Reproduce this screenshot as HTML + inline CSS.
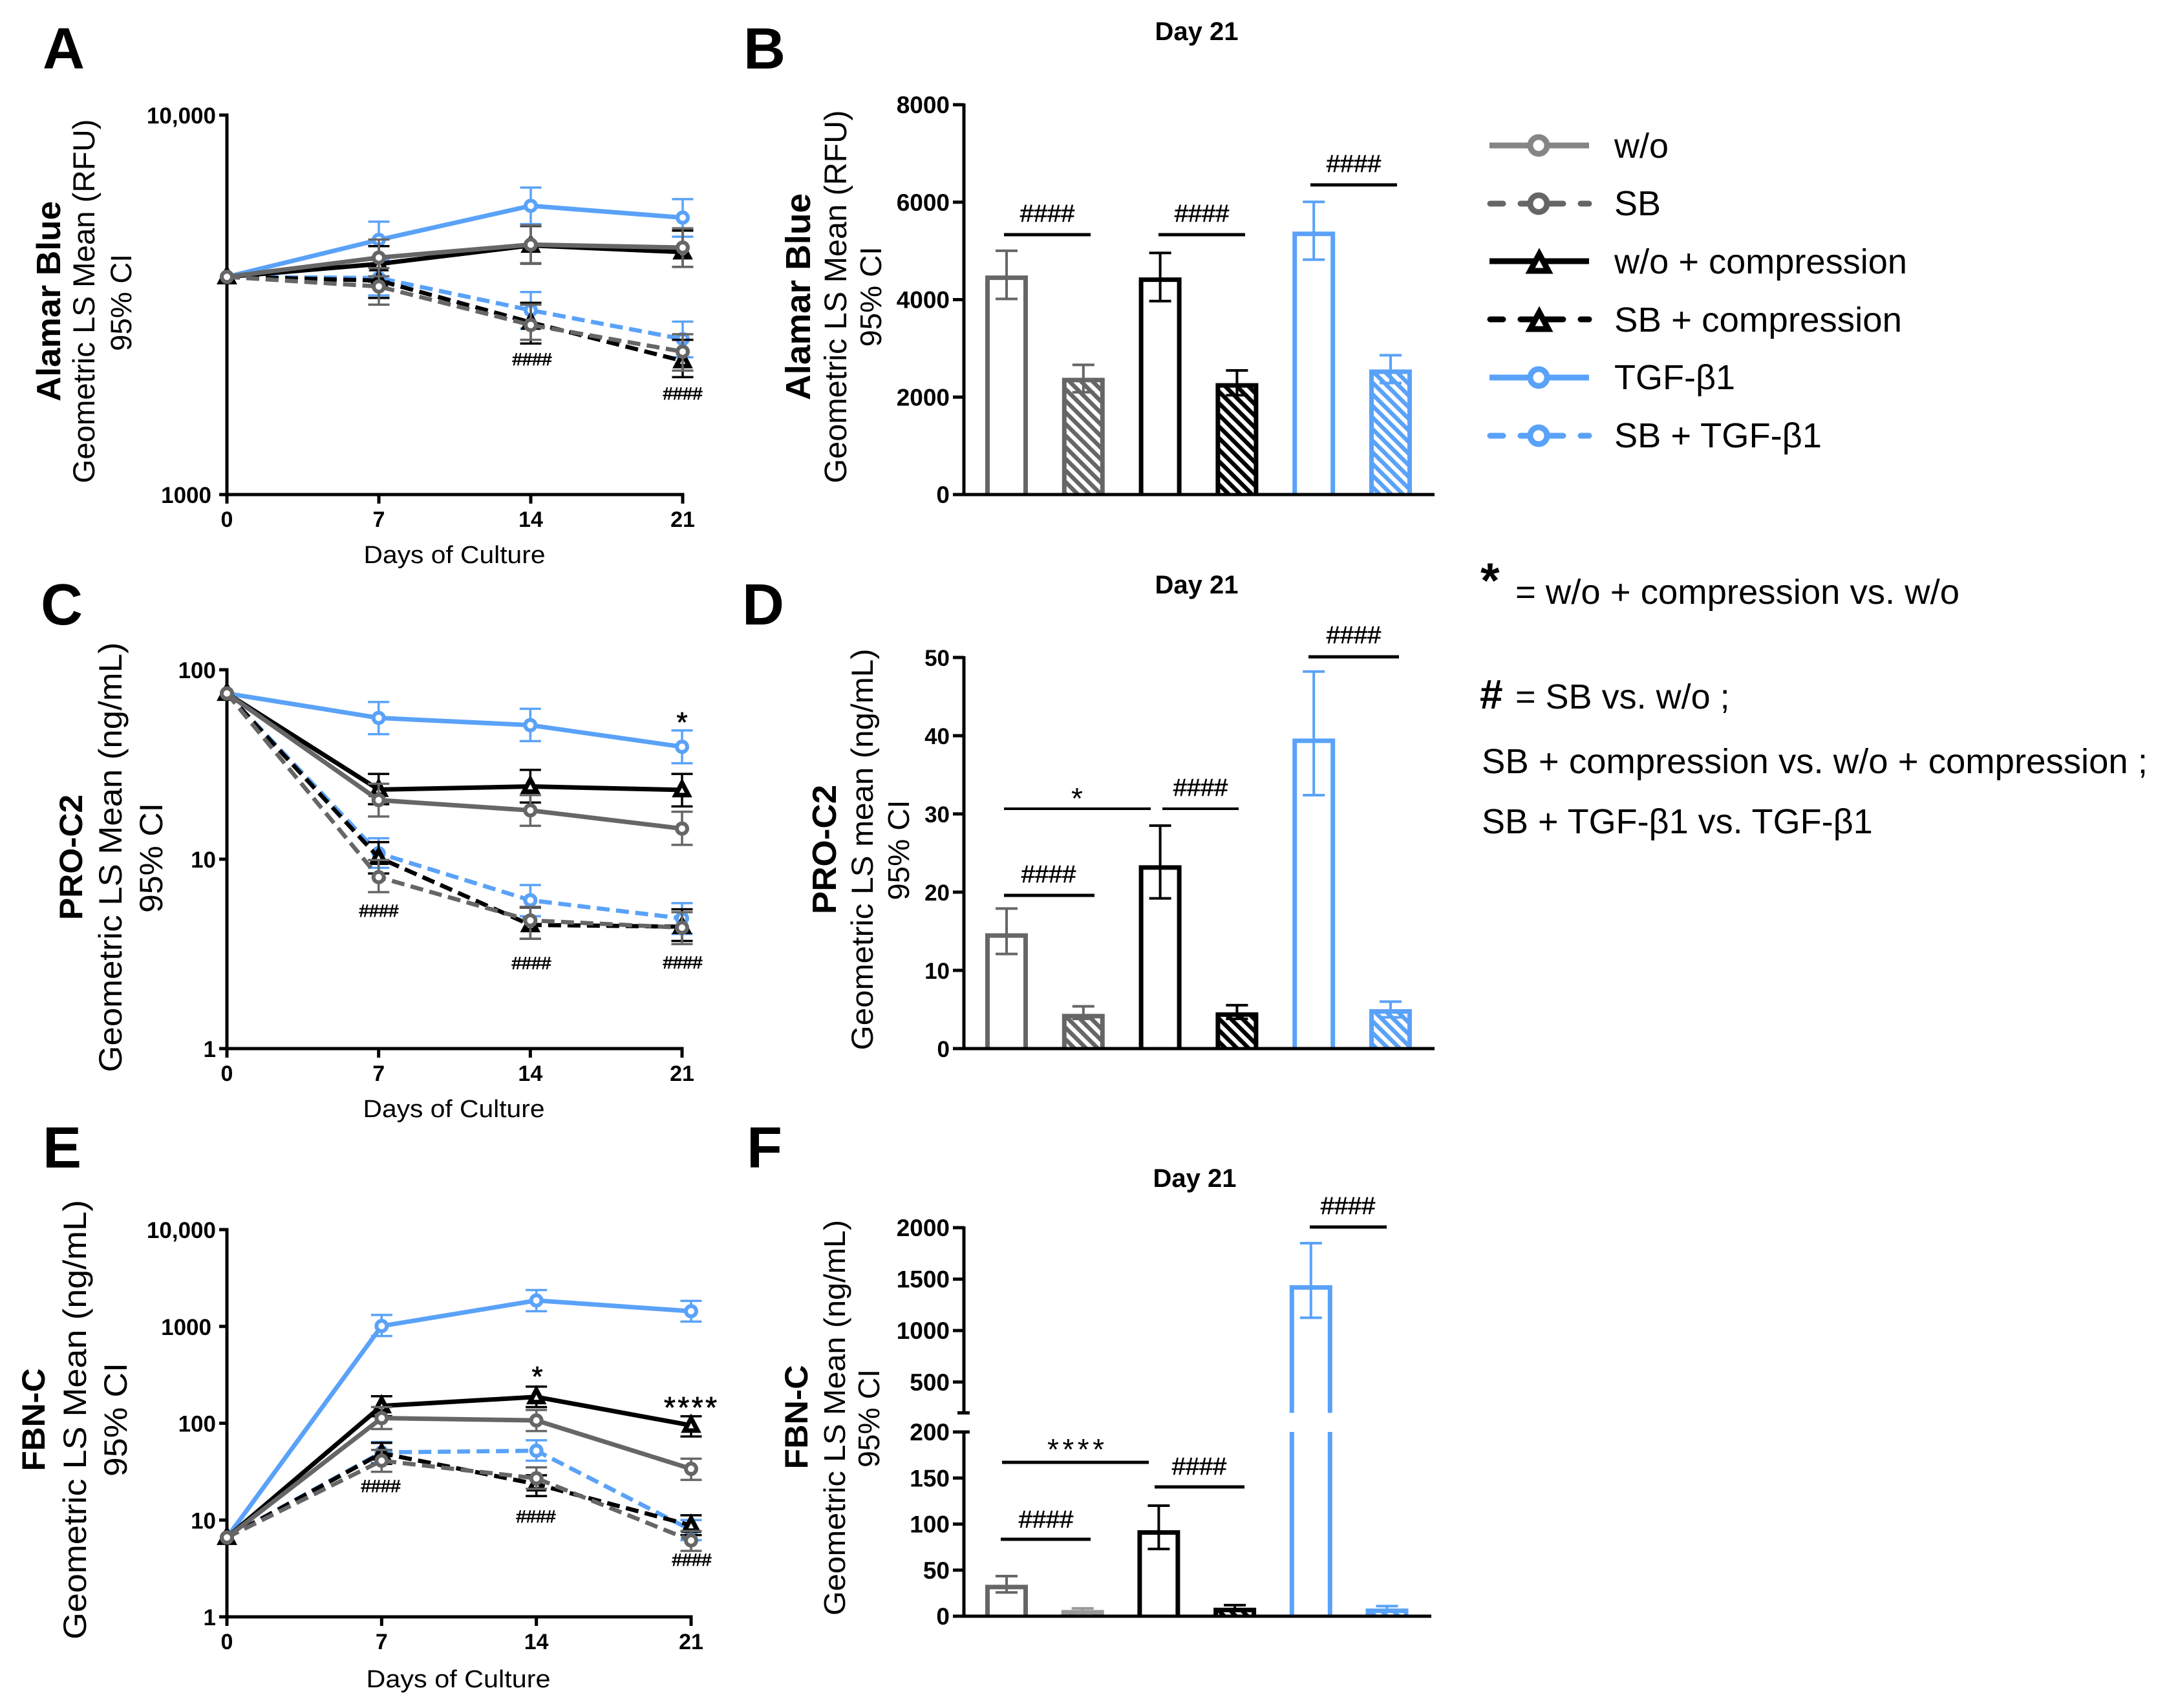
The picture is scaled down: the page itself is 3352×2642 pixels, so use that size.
<!DOCTYPE html>
<html lang="en">
<head>
<meta charset="utf-8">
<title>Alamar Blue, PRO-C2 and FBN-C over culture</title>
<style>
html,body{margin:0;padding:0;background:#fff}
svg{display:block}
text{font-family:"Liberation Sans",Arial,sans-serif;fill:#000}
.b{font-weight:bold}
</style>
</head>
<body>
<svg id="figure" xmlns="http://www.w3.org/2000/svg" width="3352" height="2642" viewBox="0 0 3352 2642">
<rect width="3352" height="2642" fill="#fff"/>
<defs>
<pattern id="hatch-gray" patternUnits="userSpaceOnUse" width="12.7" height="12.7" patternTransform="rotate(-45)"><rect width="12.7" height="12.7" fill="#fff"/><rect width="6.5" height="12.7" fill="#666"/></pattern>
<pattern id="hatch-black" patternUnits="userSpaceOnUse" width="12.7" height="12.7" patternTransform="rotate(-45)"><rect width="12.7" height="12.7" fill="#fff"/><rect width="6.5" height="12.7" fill="#000"/></pattern>
<pattern id="hatch-blue" patternUnits="userSpaceOnUse" width="12.7" height="12.7" patternTransform="rotate(-45)"><rect width="12.7" height="12.7" fill="#fff"/><rect width="6.5" height="12.7" fill="#5aa2f8"/></pattern>
</defs>

<g id="plots"></g>

<g class="b" font-size="90">
<text class="b" x="66" y="106">A</text>
<text class="b" x="1150" y="106">B</text>
<text class="b" x="63" y="966">C</text>
<text class="b" x="1148" y="966">D</text>
<text class="b" x="66" y="1806">E</text>
<text class="b" x="1155" y="1806">F</text>
</g>

<g>
<text class="b" transform="translate(93,466) rotate(-90)" text-anchor="middle" font-size="52" textLength="310" lengthAdjust="spacingAndGlyphs">Alamar Blue</text>
<text transform="translate(146,466) rotate(-90)" text-anchor="middle" font-size="47" textLength="563" lengthAdjust="spacingAndGlyphs">Geometric LS Mean (RFU)</text>
<text transform="translate(203,468) rotate(-90)" text-anchor="middle" font-size="45" textLength="150" lengthAdjust="spacingAndGlyphs">95% CI</text>
<text x="703" y="871" text-anchor="middle" font-size="38" textLength="281" lengthAdjust="spacingAndGlyphs">Days of Culture</text>
</g>
<g>
<text class="b" x="1851" y="62" text-anchor="middle" font-size="40">Day 21</text>
<text class="b" transform="translate(1253,459) rotate(-90)" text-anchor="middle" font-size="54" textLength="320" lengthAdjust="spacingAndGlyphs">Alamar Blue</text>
<text transform="translate(1309,459) rotate(-90)" text-anchor="middle" font-size="48" textLength="577" lengthAdjust="spacingAndGlyphs">Geometric LS Mean (RFU)</text>
<text transform="translate(1363,459) rotate(-90)" text-anchor="middle" font-size="46" textLength="155" lengthAdjust="spacingAndGlyphs">95% CI</text>
</g>
<g>
<text class="b" transform="translate(127,1326) rotate(-90)" text-anchor="middle" font-size="50" textLength="194" lengthAdjust="spacingAndGlyphs">PRO-C2</text>
<text transform="translate(188,1326) rotate(-90)" text-anchor="middle" font-size="50" textLength="665" lengthAdjust="spacingAndGlyphs">Geometric LS Mean (ng/mL)</text>
<text transform="translate(251,1327) rotate(-90)" text-anchor="middle" font-size="50" textLength="170" lengthAdjust="spacingAndGlyphs">95% CI</text>
<text x="702" y="1728" text-anchor="middle" font-size="38" textLength="281" lengthAdjust="spacingAndGlyphs">Days of Culture</text>
</g>
<g>
<text class="b" x="1851" y="918" text-anchor="middle" font-size="40">Day 21</text>
<text class="b" transform="translate(1293,1314) rotate(-90)" text-anchor="middle" font-size="52" textLength="200" lengthAdjust="spacingAndGlyphs">PRO-C2</text>
<text transform="translate(1350,1314) rotate(-90)" text-anchor="middle" font-size="47" textLength="621" lengthAdjust="spacingAndGlyphs">Geometric LS mean (ng/mL)</text>
<text transform="translate(1406,1315) rotate(-90)" text-anchor="middle" font-size="46" textLength="155" lengthAdjust="spacingAndGlyphs">95% CI</text>
</g>
<g>
<text class="b" transform="translate(69,2196) rotate(-90)" text-anchor="middle" font-size="50" textLength="159" lengthAdjust="spacingAndGlyphs">FBN-C</text>
<text transform="translate(133,2196) rotate(-90)" text-anchor="middle" font-size="50" textLength="680" lengthAdjust="spacingAndGlyphs">Geometric LS Mean (ng/mL)</text>
<text transform="translate(196,2196) rotate(-90)" text-anchor="middle" font-size="50" textLength="176" lengthAdjust="spacingAndGlyphs">95% CI</text>
<text x="709" y="2610" text-anchor="middle" font-size="38" textLength="285" lengthAdjust="spacingAndGlyphs">Days of Culture</text>
</g>
<g>
<text class="b" x="1848" y="1836" text-anchor="middle" font-size="40">Day 21</text>
<text class="b" transform="translate(1249,2192) rotate(-90)" text-anchor="middle" font-size="50" textLength="161" lengthAdjust="spacingAndGlyphs">FBN-C</text>
<text transform="translate(1307,2193) rotate(-90)" text-anchor="middle" font-size="46" textLength="612" lengthAdjust="spacingAndGlyphs">Geometric LS Mean (ng/mL)</text>
<text transform="translate(1360,2194) rotate(-90)" text-anchor="middle" font-size="46" textLength="152" lengthAdjust="spacingAndGlyphs">95% CI</text>
</g>

<g text-anchor="middle" stroke="#000" stroke-width="0.8">
<text x="823" y="565" font-size="27" textLength="61" lengthAdjust="spacingAndGlyphs">####</text>
<text x="1056" y="618" font-size="27" textLength="61" lengthAdjust="spacingAndGlyphs">####</text>
<text x="586" y="1418" font-size="27" textLength="61" lengthAdjust="spacingAndGlyphs">####</text>
<text x="822" y="1499" font-size="27" textLength="61" lengthAdjust="spacingAndGlyphs">####</text>
<text x="1056" y="1498" font-size="27" textLength="61" lengthAdjust="spacingAndGlyphs">####</text>
<text x="1055" y="1132" font-size="44">*</text>
<text x="589" y="2308" font-size="27" textLength="61" lengthAdjust="spacingAndGlyphs">####</text>
<text x="829" y="2355" font-size="27" textLength="61" lengthAdjust="spacingAndGlyphs">####</text>
<text x="1070" y="2422" font-size="27" textLength="61" lengthAdjust="spacingAndGlyphs">####</text>
<text x="831" y="2144" font-size="44">*</text>
<text x="1068" y="2193" font-size="46" textLength="82" lengthAdjust="spacing">****</text>
</g>

<g text-anchor="middle">
<g>
<line x1="1553" x2="1687" y1="363" y2="363" stroke="#000" stroke-width="5"/>
<line x1="1792" x2="1926" y1="363" y2="363" stroke="#000" stroke-width="5"/>
<line x1="2027" x2="2161" y1="286" y2="286" stroke="#000" stroke-width="5"/>
<text x="1620" y="343" font-size="38" stroke="#000" stroke-width="0.6">####</text>
<text x="1859" y="343" font-size="38" stroke="#000" stroke-width="0.6">####</text>
<text x="2094" y="266" font-size="38" stroke="#000" stroke-width="0.6">####</text>
</g>
<g>
<line x1="1553" x2="1780" y1="1251" y2="1251" stroke="#000" stroke-width="4"/>
<line x1="1798" x2="1916" y1="1251" y2="1251" stroke="#000" stroke-width="4"/>
<line x1="1553" x2="1693" y1="1385" y2="1385" stroke="#000" stroke-width="5"/>
<line x1="2024" x2="2164" y1="1016" y2="1016" stroke="#000" stroke-width="5"/>
<text x="1666" y="1251" font-size="46">*</text>
<text x="1857" y="1231" font-size="38" stroke="#000" stroke-width="0.6">####</text>
<text x="1622" y="1365" font-size="38" stroke="#000" stroke-width="0.6">####</text>
<text x="2094" y="995" font-size="38" stroke="#000" stroke-width="0.6">####</text>
</g>
<g>
<line x1="1550" x2="1777" y1="2262" y2="2262" stroke="#000" stroke-width="5"/>
<line x1="1786" x2="1925" y1="2300" y2="2300" stroke="#000" stroke-width="5"/>
<line x1="1548" x2="1687" y1="2381" y2="2381" stroke="#000" stroke-width="5"/>
<line x1="2026" x2="2145" y1="1898" y2="1898" stroke="#000" stroke-width="5"/>
<text x="1664" y="2258" font-size="46" textLength="88" lengthAdjust="spacing">****</text>
<text x="1855" y="2281" font-size="38" stroke="#000" stroke-width="0.6">####</text>
<text x="1618" y="2363" font-size="38" stroke="#000" stroke-width="0.6">####</text>
<text x="2085" y="1878" font-size="38" stroke="#000" stroke-width="0.6">####</text>
</g>
</g>

<g font-size="54">
<g>
<line x1="2304" x2="2458" y1="225" y2="225" stroke="#858585" stroke-width="9"/>
<circle cx="2380" cy="225" r="13" fill="#fff" stroke="#858585" stroke-width="9"/>
<text x="2497" y="244" textLength="84" lengthAdjust="spacingAndGlyphs">w/o</text>
</g>
<g>
<line x1="2305" x2="2458" y1="315" y2="315" stroke="#666" stroke-width="9" stroke-linecap="round" stroke-dasharray="20 27 66 27 20"/>
<circle cx="2380" cy="315" r="13" fill="#fff" stroke="#666" stroke-width="9"/>
<text x="2497" y="333">SB</text>
</g>
<g>
<line x1="2304" x2="2458" y1="404" y2="404" stroke="#000" stroke-width="9"/>
<polygon points="2381,393 2395,419 2367,419" fill="#fff" stroke="#000" stroke-width="9"/>
<text x="2497" y="423" textLength="453" lengthAdjust="spacingAndGlyphs">w/o + compression</text>
</g>
<g>
<line x1="2305" x2="2458" y1="494" y2="494" stroke="#000" stroke-width="9" stroke-linecap="round" stroke-dasharray="20 27 66 27 20"/>
<polygon points="2381,483 2395,509 2367,509" fill="#fff" stroke="#000" stroke-width="9"/>
<text x="2497" y="513" textLength="445" lengthAdjust="spacingAndGlyphs">SB + compression</text>
</g>
<g>
<line x1="2304" x2="2458" y1="584" y2="584" stroke="#5aa2f8" stroke-width="9"/>
<circle cx="2380" cy="584" r="13" fill="#fff" stroke="#5aa2f8" stroke-width="9"/>
<text x="2497" y="602">TGF-β1</text>
</g>
<g>
<line x1="2305" x2="2458" y1="674" y2="674" stroke="#5aa2f8" stroke-width="9" stroke-linecap="round" stroke-dasharray="20 27 66 27 20"/>
<circle cx="2380" cy="674" r="13" fill="#fff" stroke="#5aa2f8" stroke-width="9"/>
<text x="2497" y="692" textLength="321" lengthAdjust="spacingAndGlyphs">SB + TGF-β1</text>
</g>
</g>

<g font-size="54">
<text class="b" x="2290" y="924" font-size="76">*</text>
<text x="2344" y="934" textLength="687" lengthAdjust="spacingAndGlyphs">= w/o + compression vs. w/o</text>
<text class="b" x="2289" y="1096" font-size="64">#</text>
<text x="2344" y="1096">= SB vs. w/o ;</text>
<text x="2292" y="1196" textLength="1030" lengthAdjust="spacingAndGlyphs">SB + compression vs. w/o + compression ;</text>
<text x="2292" y="1289">SB + TGF-β1 vs. TGF-β1</text>
</g>
</svg>

<script>
// Shared categories
const days = [0, 7, 14, 21];
const barGroups = ['w/o', 'SB', 'w/o + compression', 'SB + compression', 'TGF-β1', 'SB + TGF-β1'];

// Panel A: Alamar Blue (RFU)
const aTicks = [1000, 10000];
const aTickLabels = ['1000', '10,000'];
const aWoMean = [3747, 4211, 4556, 4474];
const aWoHi = [3747, 4700, 5120, 5030];
const aWoLo = [3747, 3760, 4071, 3981];
const aSbMean = [3747, 3534, 2798, 2380];
const aSbHi = [3747, 3950, 3166, 2645];
const aSbLo = [3747, 3166, 2557, 2122];
const aWcMean = [3747, 4053, 4534, 4355];
const aWcHi = [3747, 4515, 5100, 4960];
const aWcLo = [3747, 3640, 4060, 3980];
const aScMean = [3747, 3664, 2842, 2250];
const aScHi = [3747, 4050, 3202, 2557];
const aScLo = [3747, 3297, 2500, 2039];
const aTgMean = [3747, 4691, 5767, 5368];
const aTgHi = [3747, 5238, 6440, 6005];
const aTgLo = [3747, 4200, 5160, 4780];
const aStMean = [3747, 3721, 3060, 2569];
const aStHi = [3747, 4150, 3417, 2855];
const aStLo = [3747, 3348, 2740, 2300];

// Panel B: Alamar Blue, day 21
const bTicks = [0, 2000, 4000, 6000, 8000];
const bMeans = [4490, 2390, 4450, 2280, 5390, 2560];
const bHi = [5003, 2661, 4958, 2547, 6007, 2859];
const bLo = [4015, 2100, 3970, 2038, 4821, 2289];

// Panel C: PRO-C2 (ng/mL)
const cTicks = [1, 10, 100];
const cTickLabels = ['1', '10', '100'];
const cWoMean = [75, 20.5, 18.1, 14.5];
const cWoHi = [75, 25, 21.8, 17.8];
const cWoLo = [75, 16.8, 15, 11.9];
const cSbMean = [75, 8.04, 4.75, 4.35];
const cSbHi = [75, 9.9, 5.6, 5.25];
const cSbLo = [75, 6.7, 3.8, 3.56];
const cWcMean = [75, 23.3, 24.2, 23.2];
const cWcHi = [75, 28.2, 29.6, 28.2];
const cWcLo = [75, 19.5, 19.9, 19];
const cScMean = [75, 10.2, 4.5, 4.4];
const cScHi = [75, 12.3, 5.56, 5.44];
const cScLo = [75, 8.4, 3.8, 3.7];
const cTgMean = [75, 55.7, 51, 39.2];
const cTgHi = [75, 67.6, 62.2, 47.8];
const cTgLo = [75, 45.7, 42, 32.1];
const cStMean = [75, 10.75, 6.07, 4.87];
const cStHi = [75, 12.9, 7.3, 5.86];
const cStLo = [75, 9, 5, 4.03];

// Panel D: PRO-C2, day 21
const dTicks = [0, 10, 20, 30, 40, 50];
const dMeans = [14.7, 4.4, 23.4, 4.6, 39.6, 5];
const dHi = [17.9, 5.4, 28.5, 5.55, 48.2, 6];
const dLo = [12.1, 3.8, 19.2, 3.8, 32.4, 4];

// Panel E: FBN-C (ng/mL)
const eTicks = [1, 10, 100, 1000, 10000];
const eTickLabels = ['1', '10', '100', '1000', '10,000'];
const eWoMean = [6.6, 113, 107, 33.8];
const eWoHi = [6.6, 147, 137, 43];
const eWoLo = [6.6, 87, 83, 26];
const eSbMean = [6.6, 41, 27, 6.15];
const eSbHi = [6.6, 53, 35, 7.7];
const eSbLo = [6.6, 31.5, 21, 4.8];
const eWcMean = [6.6, 151, 187, 95];
const eWcHi = [6.6, 190, 239, 118];
const eWcLo = [6.6, 118, 147, 73];
const eScMean = [6.6, 49, 23.5, 8.8];
const eScHi = [6.6, 62.7, 29, 11.2];
const eScLo = [6.6, 38, 17.7, 7];
const eTgMean = [6.6, 1009, 1854, 1436];
const eTgHi = [6.6, 1315, 2373, 1837];
const eTgLo = [6.6, 795, 1436, 1122];
const eStMean = [6.6, 50, 52, 7.9];
const eStHi = [6.6, 64, 66.6, 10];
const eStLo = [6.6, 39, 41, 6.2];

// Panel F: FBN-C, day 21 (broken axis)
const fLowerTicks = [0, 50, 100, 150, 200];
const fUpperTicks = [500, 1000, 1500, 2000];
const fMeans = [33.8, 6.4, 93, 8.9, 1438, 8];
const fHi = [43.5, 8.5, 120, 12, 1849, 11];
const fLo = [25.8, 5, 73, 6, 1124, 5.6];

const NS = 'http://www.w3.org/2000/svg';
const GRAY = '#666';
const BLUE = '#5aa2f8';
const plots = document.getElementById('plots');

function mk(tag, attrs, parent) {
  const el = document.createElementNS(NS, tag);
  for (const k in attrs) el.setAttribute(k, attrs[k]);
  parent.appendChild(el);
  return el;
}

function group(name, parent) {
  const g = mk('g', {}, parent);
  
  
  return g;
}

function line(x1, y1, x2, y2, color, w, parent, name) {
  const el = mk('line', {x1: x1, y1: y1, x2: x2, y2: y2, stroke: color, 'stroke-width': w}, parent);
  
  
  return el;
}

function label(x, y, str, size, anchor, parent, name) {
  const el = mk('text', {x: x, y: y, 'font-size': size, 'text-anchor': anchor, 'font-weight': 'bold'}, parent);
  el.textContent = str;
  
  
  return el;
}

function errorBar(x, yHi, yLo, capW, color, w, parent, name) {
  const g = group(name, parent);
  line(x, yHi, x, yLo, color, w, g, 'error-stem');
  line(x - capW / 2, yHi, x + capW / 2, yHi, color, w, g, 'error-cap-upper');
  line(x - capW / 2, yLo, x + capW / 2, yLo, color, w, g, 'error-cap-lower');
}

function drawLinePanel(id, box, ticks, tickLabels, seriesList) {
  const root = group('panel-' + id + '-chart', plots);
  const lo = Math.log10(ticks[0]);
  const hi = Math.log10(ticks[ticks.length - 1]);
  const xAt = d => box.x0 + d / 21 * (box.x1 - box.x0);
  const yAt = v => box.yb - (Math.log10(v) - lo) / (hi - lo) * (box.yb - box.yt);

  const axes = group('panel-' + id + '-axes', root);
  line(box.x0, box.yt - 2.5, box.x0, box.yb + 2.5, '#000', 5, axes, 'y-axis');
  line(box.x0 - 2.5, box.yb, box.x1 + 2.5, box.yb, '#000', 5, axes, 'x-axis');
  ticks.forEach((t, i) => {
    const y = yAt(t);
    line(box.x0 - 12, y, box.x0, y, '#000', 5, axes, 'y-tick');
    const shift = tickLabels[i] === '1000' ? 7 : 0;
    label(box.x0 - 17 - shift, y + 13, tickLabels[i], 35, 'end', axes, 'y-tick-label');
  });
  days.forEach(d => {
    const x = xAt(d);
    line(x, box.yb, x, box.yb + 14, '#000', 5, axes, 'x-tick');
    label(x, box.yb + 50, String(d), 34, 'middle', axes, 'x-tick-label');
  });

  seriesList.forEach(s => {
    const g = group('panel-' + id + '-series-' + s.key, root);
    const pts = s.mean.map((v, i) => xAt(days[i]) + ',' + yAt(v)).join(' ');
    const path = mk('polyline', {points: pts, fill: 'none', stroke: s.color, 'stroke-width': s.dash ? 6.5 : 7}, g);
    if (s.dash) path.setAttribute('stroke-dasharray', '20 10');
    
    
    s.mean.forEach((v, i) => {
      const x = xAt(days[i]);
      if (i > 0) errorBar(x, yAt(s.hi[i]), yAt(s.lo[i]), 33, s.color, 3.5, g, s.key + '-error-bar');
    });
    s.mean.forEach((v, i) => {
      const x = xAt(days[i]);
      const y = yAt(v);
      let m;
      if (s.marker === 'triangle') {
        m = mk('polygon', {points: x + ',' + (y - 11) + ' ' + (x + 10) + ',' + (y + 8) + ' ' + (x - 10) + ',' + (y + 8), fill: '#fff', stroke: s.color, 'stroke-width': 7}, g);
      } else {
        m = mk('circle', {cx: x, cy: y, r: 8, fill: '#fff', stroke: s.color, 'stroke-width': 6}, g);
      }
      
      
    });
  });
}

function seriesSet(wm, wh, wl, sm, sh, sl, cm, ch, cl, xm, xh, xl, tm, th, tl, um, uh, ul) {
  return [
    {key: 'sb-tgf', mean: um, hi: uh, lo: ul, color: BLUE, dash: true, marker: 'circle'},
    {key: 'tgf', mean: tm, hi: th, lo: tl, color: BLUE, dash: false, marker: 'circle'},
    {key: 'sb-compression', mean: xm, hi: xh, lo: xl, color: '#000', dash: true, marker: 'triangle'},
    {key: 'wo-compression', mean: cm, hi: ch, lo: cl, color: '#000', dash: false, marker: 'triangle'},
    {key: 'sb', mean: sm, hi: sh, lo: sl, color: GRAY, dash: true, marker: 'circle'},
    {key: 'wo', mean: wm, hi: wh, lo: wl, color: GRAY, dash: false, marker: 'circle'}
  ];
}

const barColors = [GRAY, GRAY, '#000', '#000', BLUE, BLUE];
const barFills = ['#fff', 'url(#hatch-gray)', '#fff', 'url(#hatch-black)', '#fff', 'url(#hatch-blue)'];

function drawBars(id, root, firstX, step, base, yAt, means, his, los, colors) {
  const barW = 66;
  const sw = 7;
  means.forEach((v, i) => {
    const left = firstX + i * step + sw / 2;
    const right = left + barW - sw;
    const top = yAt(v) + 3;
    const d = 'M' + left + ' ' + base + 'V' + top + 'H' + right + 'V' + base;
    const b = mk('path', {d: d, fill: barFills[i], stroke: colors[i], 'stroke-width': sw}, root);
    
    
  });
  return function drawErrors() {
    means.forEach((v, i) => {
      const cx = firstX + i * step + barW / 2;
      errorBar(cx, yAt(his[i]), yAt(los[i]), 34, colors[i], 4, root, 'bar-error-' + i);
    });
  };
}

function drawBarPanel(id, box, ticks, means, his, los, tickSize) {
  const root = group('panel-' + id + '-chart', plots);
  const top = ticks[ticks.length - 1];
  const yAt = v => box.yb - v / top * (box.yb - box.yt);
  drawBars(id, root, 1524, 118.8, box.yb, yAt, means, his, los, barColors)();
  const axes = group('panel-' + id + '-axes', root);
  line(box.x0, box.yt - 2, box.x0, box.yb + 2.5, '#000', 5, axes, 'y-axis');
  line(box.x0 - 17, box.yb, box.x1, box.yb, '#000', 5, axes, 'x-axis');
  ticks.forEach(t => {
    const y = yAt(t);
    line(box.x0 - 17, y, box.x0, y, '#000', 5, axes, 'y-tick');
    label(box.x0 - 22, y + 13, String(t), tickSize, 'end', axes, 'y-tick-label');
  });
}

function drawBrokenBarPanel() {
  const root = group('panel-f-chart', plots);
  const x0 = 1491;
  const x1 = 2214;
  const base = 2500;
  const lowerTop = 2215;
  const upperTop = 1899;
  const upperBottom = 2185.5;
  const breakValue = fLowerTicks[fLowerTicks.length - 1];
  const upperMax = fUpperTicks[fUpperTicks.length - 1];
  const yLower = v => base - v / breakValue * (base - lowerTop);
  const yUpper = v => upperBottom - (v - breakValue) / (upperMax - breakValue) * (upperBottom - upperTop);
  const yAt = v => v <= breakValue ? yLower(v) : yUpper(v);
  const colors = barColors.slice();
  colors[1] = '#999';
  const drawErrors = drawBars('f', root, 1524, 117.7, base, yAt, fMeans, fHi, fLo, colors);
  const gap = mk('rect', {x: x0 + 10, y: yUpper(breakValue), width: x1 - x0 - 10, height: yLower(breakValue) - yUpper(breakValue), fill: '#fff'}, root);
  
  
  drawErrors();
  const axes = group('panel-f-axes', root);
  line(x0, upperTop - 2, x0, upperBottom + 2, '#000', 5, axes, 'y-axis-upper');
  line(x0, lowerTop - 2, x0, base + 2.5, '#000', 5, axes, 'y-axis-lower');
  line(x0 - 17, base, x1, base, '#000', 5, axes, 'x-axis');
  line(x0 - 10, upperBottom, x0 + 9, upperBottom, '#000', 5, axes, 'axis-break-upper');
  line(x0 - 10, lowerTop, x0 + 9, lowerTop, '#000', 5, axes, 'axis-break-lower');
  fUpperTicks.forEach(t => {
    const y = yUpper(t);
    line(x0 - 17, y, x0, y, '#000', 5, axes, 'y-tick');
    label(x0 - 22, y + 13, String(t), 37, 'end', axes, 'y-tick-label');
  });
  fLowerTicks.forEach(t => {
    const y = yLower(t);
    line(x0 - 17, y, x0, y, '#000', 5, axes, 'y-tick');
    label(x0 - 22, y + 13, String(t), 37, 'end', axes, 'y-tick-label');
  });
}

drawLinePanel('a', {x0: 351, x1: 1056, yt: 178, yb: 765}, aTicks, aTickLabels,
  seriesSet(aWoMean, aWoHi, aWoLo, aSbMean, aSbHi, aSbLo, aWcMean, aWcHi, aWcLo, aScMean, aScHi, aScLo, aTgMean, aTgHi, aTgLo, aStMean, aStHi, aStLo));
drawLinePanel('c', {x0: 351, x1: 1055, yt: 1036, yb: 1622}, cTicks, cTickLabels,
  seriesSet(cWoMean, cWoHi, cWoLo, cSbMean, cSbHi, cSbLo, cWcMean, cWcHi, cWcLo, cScMean, cScHi, cScLo, cTgMean, cTgHi, cTgLo, cStMean, cStHi, cStLo));
drawLinePanel('e', {x0: 351, x1: 1069, yt: 1902, yb: 2501}, eTicks, eTickLabels,
  seriesSet(eWoMean, eWoHi, eWoLo, eSbMean, eSbHi, eSbLo, eWcMean, eWcHi, eWcLo, eScMean, eScHi, eScLo, eTgMean, eTgHi, eTgLo, eStMean, eStHi, eStLo));
drawBarPanel('b', {x0: 1491, x1: 2219, yt: 162, yb: 765}, bTicks, bMeans, bHi, bLo, 37);
drawBarPanel('d', {x0: 1491, x1: 2219, yt: 1017, yb: 1622}, dTicks, dMeans, dHi, dLo, 35);
drawBrokenBarPanel();
</script>
</body>
</html>
